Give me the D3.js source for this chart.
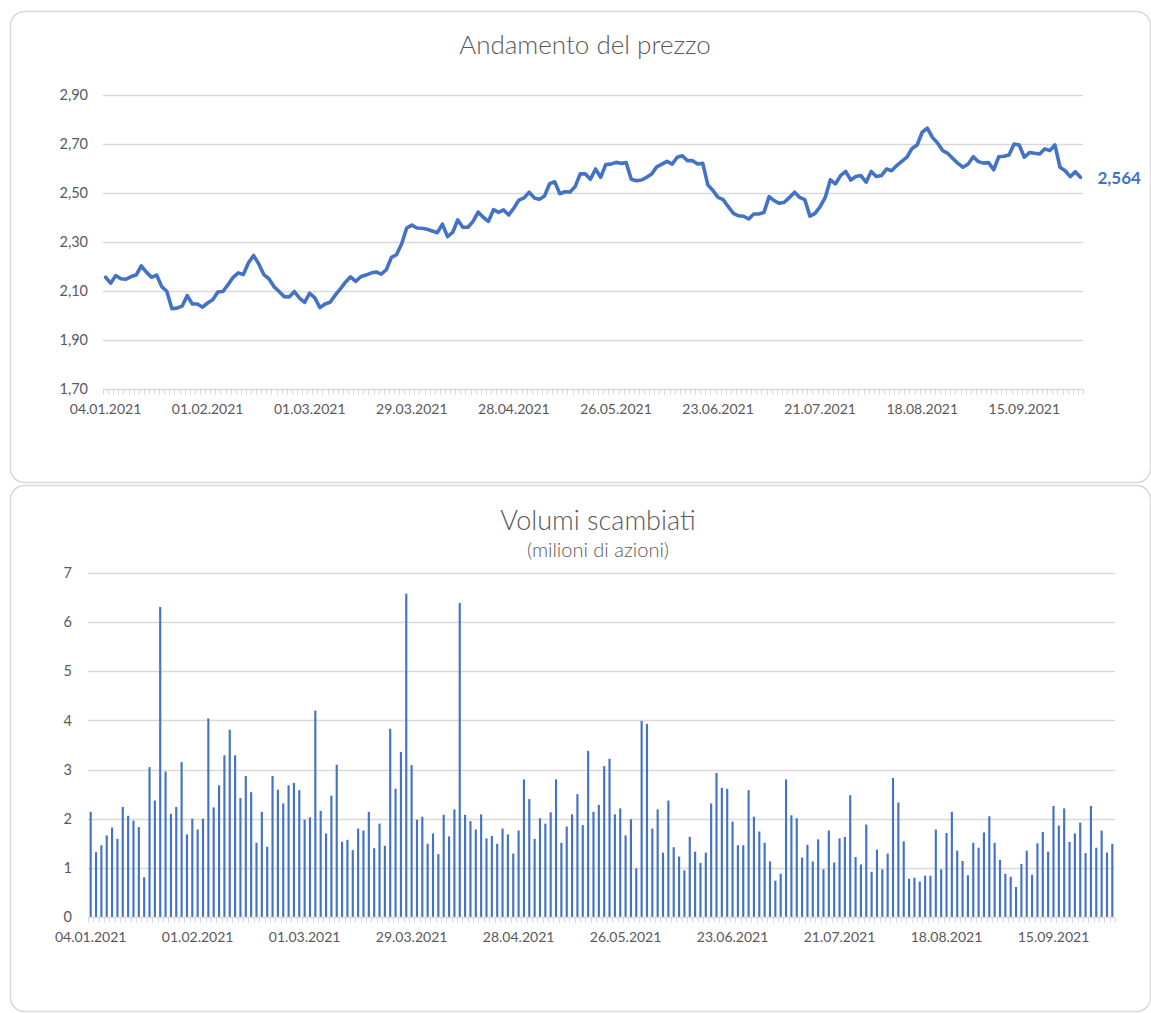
<!DOCTYPE html>
<html>
<head>
<meta charset="utf-8">
<script src="https://cdn.jsdelivr.net/npm/d3@7"></script>
<style>
  html, body { margin: 0; padding: 0; background: #ffffff; }
  svg { display: block; font-family: Lato, "Open Sans", "Liberation Sans", sans-serif; }
</style>
</head>
<body>
<svg id="chart" width="1151" height="1013"></svg>
<script>
// ---------- DATA ----------
// Trading days 04.01.2021 – 30.09.2021 (Borsa Italiana calendar)
const holidays = ["2021-04-02", "2021-04-05"];
const startDate = "2021-01-04";
const endDate = "2021-09-30";

const tickLabels = ["04.01.2021", "01.02.2021", "01.03.2021", "29.03.2021", "28.04.2021",
                    "26.05.2021", "23.06.2021", "21.07.2021", "18.08.2021", "15.09.2021"];

const priceTicks = [1.70, 1.90, 2.10, 2.30, 2.50, 2.70, 2.90];
const volumeTicks = [0, 1, 2, 3, 4, 5, 6, 7];

const prices = [
  2.156, 2.132, 2.163, 2.150, 2.148, 2.159, 2.165, 2.203, 2.177, 2.156,
  2.165, 2.118, 2.099, 2.028, 2.030, 2.038, 2.081, 2.047, 2.047, 2.034,
  2.051, 2.064, 2.096, 2.098, 2.126, 2.156, 2.174, 2.167, 2.215, 2.245,
  2.211, 2.167, 2.150, 2.118, 2.098, 2.077, 2.076, 2.098, 2.071, 2.054,
  2.091, 2.072, 2.032, 2.047, 2.054, 2.083, 2.109, 2.136, 2.158, 2.139,
  2.158, 2.165, 2.173, 2.178, 2.169, 2.186, 2.237, 2.248, 2.292, 2.357,
  2.369, 2.357, 2.356, 2.352, 2.345, 2.338, 2.373, 2.322, 2.339, 2.390,
  2.360, 2.360, 2.384, 2.422, 2.401, 2.384, 2.432, 2.421, 2.431, 2.410,
  2.439, 2.471, 2.480, 2.503, 2.480, 2.474, 2.488, 2.538, 2.546, 2.497,
  2.505, 2.504, 2.526, 2.578, 2.578, 2.556, 2.598, 2.564, 2.616, 2.618,
  2.625, 2.621, 2.624, 2.556, 2.550, 2.553, 2.564, 2.578, 2.607, 2.618,
  2.629, 2.618, 2.646, 2.652, 2.632, 2.632, 2.618, 2.621, 2.533, 2.510,
  2.482, 2.473, 2.444, 2.417, 2.407, 2.405, 2.394, 2.414, 2.414, 2.421,
  2.485, 2.469, 2.458, 2.462, 2.482, 2.503, 2.482, 2.473, 2.405, 2.417,
  2.444, 2.482, 2.554, 2.537, 2.571, 2.588, 2.553, 2.567, 2.571, 2.544,
  2.588, 2.567, 2.571, 2.598, 2.591, 2.612, 2.629, 2.646, 2.682, 2.696,
  2.748, 2.765, 2.727, 2.704, 2.673, 2.662, 2.641, 2.621, 2.605, 2.618,
  2.648, 2.628, 2.622, 2.624, 2.595, 2.648, 2.650, 2.655, 2.700, 2.696,
  2.646, 2.665, 2.662, 2.659, 2.680, 2.673, 2.696, 2.605, 2.591, 2.567,
  2.587, 2.564
];

// milioni di azioni
const volumes = [
  2.14, 1.32, 1.46, 1.66, 1.82, 1.59, 2.24, 2.06, 1.96, 1.83,
  0.81, 3.05, 2.37, 6.31, 2.96, 2.10, 2.24, 3.15, 1.68, 2.00,
  1.78, 2.00, 4.04, 2.23, 2.68, 3.29, 3.81, 3.29, 2.42, 2.87,
  2.54, 1.51, 2.14, 1.43, 2.87, 2.59, 2.31, 2.68, 2.73, 2.58,
  1.98, 2.03, 4.20, 2.16, 1.70, 2.47, 3.10, 1.53, 1.57, 1.36,
  1.80, 1.76, 2.14, 1.40, 1.90, 1.45, 3.83, 2.61, 3.36, 6.58,
  3.09, 1.98, 2.04, 1.49, 1.70, 1.28, 2.08, 1.64, 2.19, 6.39,
  2.08, 1.95, 1.78, 2.09, 1.60, 1.65, 1.49, 1.80, 1.68, 1.29,
  1.76, 2.80, 2.40, 1.59, 2.01, 1.90, 2.13, 2.80, 1.51, 1.84,
  2.09, 2.50, 1.87, 3.38, 2.14, 2.28, 3.07, 3.22, 2.09, 2.21,
  1.66, 1.99, 0.99, 3.99, 3.93, 1.80, 2.19, 1.31, 2.37, 1.42,
  1.23, 0.95, 1.63, 1.33, 1.10, 1.31, 2.31, 2.93, 2.63, 2.61,
  1.94, 1.46, 1.46, 2.58, 2.04, 1.74, 1.51, 1.13, 0.74, 0.88,
  2.80, 2.07, 2.01, 1.21, 1.47, 1.13, 1.58, 0.97, 1.76, 1.11,
  1.60, 1.63, 2.48, 1.22, 1.07, 1.88, 0.92, 1.37, 0.97, 1.29,
  2.83, 2.33, 1.54, 0.78, 0.80, 0.72, 0.84, 0.84, 1.78, 0.97,
  1.71, 2.14, 1.35, 1.14, 0.85, 1.51, 1.41, 1.72, 2.05, 1.51,
  1.16, 0.88, 0.82, 0.61, 1.08, 1.35, 0.86, 1.50, 1.73, 1.33,
  2.26, 1.86, 2.21, 1.53, 1.70, 1.92, 1.30, 2.26, 1.41, 1.76,
  1.31, 1.49
];

// ---------- CATEGORIES (trading days) ----------
const fmt = d3.timeFormat("%d.%m.%Y");
const iso = d3.timeFormat("%Y-%m-%d");
const parse = d3.timeParse("%Y-%m-%d");
const dates = d3.timeDay.range(parse(startDate), d3.timeDay.offset(parse(endDate), 1))
  .filter(d => d.getDay() !== 0 && d.getDay() !== 6 && !holidays.includes(iso(d)))
  .map(fmt);
const n = Math.min(dates.length, prices.length, volumes.length);
const cats = dates.slice(0, n);

// ---------- STYLE ----------
const BLUE = "#4472C4";
const TEXT = "#595959";
const GRID = "#d9d9d9";
const FONT = "Lato, 'Open Sans', sans-serif";

const svg = d3.select("#chart");

// panels
svg.append("rect").attr("x", 10.5).attr("y", 11.5).attr("width", 1140).attr("height", 471)
  .attr("rx", 14).attr("fill", "#fff").attr("stroke", GRID).attr("stroke-width", 1.5);
svg.append("rect").attr("x", 10.5).attr("y", 485.5).attr("width", 1140).attr("height", 526)
  .attr("rx", 14).attr("fill", "#fff").attr("stroke", GRID).attr("stroke-width", 1.5);

// ---------- PRICE CHART ----------
const p = { left: 103, right: 1083, top: 95, bottom: 389 };
const xP = d3.scaleBand().domain(cats).range([p.left, p.right]).paddingInner(0).paddingOuter(0);
const yP = d3.scaleLinear().domain([1.70, 2.90]).range([p.bottom, p.top]);
const commaFmt = v => d3.format(".2f")(v).replace(".", ",");

svg.append("text").attr("x", 585).attr("y", 54).attr("text-anchor", "middle")
  .attr("font-size", 26).attr("font-weight", 300).attr("fill", TEXT).text("Andamento del prezzo");

// gridlines
svg.append("g").selectAll("line").data(priceTicks.filter(t => t > 1.70)).join("line")
  .attr("x1", p.left).attr("x2", p.right)
  .attr("y1", d => Math.round(yP(d)) + 0.5).attr("y2", d => Math.round(yP(d)) + 0.5)
  .attr("stroke", GRID).attr("stroke-width", 1.3);

// y axis labels
const yAxisP = svg.append("g").attr("transform", `translate(${p.left - 12},0)`)
  .call(d3.axisLeft(yP).tickValues(priceTicks).tickFormat(commaFmt).tickSize(0));
yAxisP.select(".domain").remove();
yAxisP.selectAll("text").attr("font-size", 14.5).attr("fill", TEXT).attr("font-family", FONT);

// x axis baseline with category tick marks
const xAxisP = svg.append("g").attr("transform", `translate(0,${Math.round(p.bottom) + 0.5})`);
xAxisP.append("line").attr("x1", p.left).attr("x2", p.right).attr("stroke", GRID).attr("stroke-width", 1.3);
xAxisP.selectAll("line.tk").data(cats.concat(["__end"])).join("line").attr("class", "tk")
  .attr("x1", (d, i) => Math.round(i < n ? xP(d) : p.right) + 0.5)
  .attr("x2", (d, i) => Math.round(i < n ? xP(d) : p.right) + 0.5)
  .attr("y1", 0).attr("y2", 5).attr("stroke", GRID).attr("stroke-width", 1);
xAxisP.append("g").call(
    d3.axisBottom(xP).tickValues(tickLabels.filter(t => cats.includes(t))).tickSize(0).tickPadding(15))
  .call(g => g.select(".domain").remove())
  .selectAll("text").attr("font-size", 14).attr("fill", TEXT).attr("font-family", FONT);

// price line
const line = d3.line()
  .x((d, i) => xP(cats[i]) + xP.bandwidth() / 2)
  .y(d => yP(d));
svg.append("path").datum(prices.slice(0, n))
  .attr("d", line).attr("fill", "none").attr("stroke", BLUE)
  .attr("stroke-width", 3.6).attr("stroke-linejoin", "round").attr("stroke-linecap", "round");

// last value label
const lastIdx = n - 1;
svg.append("text")
  .attr("x", xP(cats[lastIdx]) + xP.bandwidth() / 2 + 17)
  .attr("y", yP(prices[lastIdx]) + 1)
  .attr("dy", "0.35em")
  .attr("font-size", 17).attr("font-weight", "bold").attr("fill", BLUE)
  .text(d3.format(".3f")(prices[lastIdx]).replace(".", ","));

// ---------- VOLUME CHART ----------
const v = { left: 88, right: 1115, top: 573, bottom: 917 };
const xVc = d3.scaleBand().domain(cats).range([v.left, v.right]);
const yV = d3.scaleLinear().domain([0, 7]).range([v.bottom, v.top]);

svg.append("text").attr("x", 598).attr("y", 530).attr("text-anchor", "middle")
  .attr("font-size", 27).attr("font-weight", 300).attr("fill", TEXT).text("Volumi scambiati");
svg.append("text").attr("x", 598).attr("y", 557).attr("text-anchor", "middle")
  .attr("font-size", 20).attr("font-weight", 300).attr("fill", TEXT).text("(milioni di azioni)");

svg.append("g").selectAll("line").data(volumeTicks.filter(t => t > 0)).join("line")
  .attr("x1", v.left).attr("x2", v.right)
  .attr("y1", d => Math.round(yV(d)) + 0.5).attr("y2", d => Math.round(yV(d)) + 0.5)
  .attr("stroke", GRID).attr("stroke-width", 1.3);

const yAxisV = svg.append("g").attr("transform", `translate(${v.left - 13},0)`)
  .call(d3.axisLeft(yV).tickValues(volumeTicks).tickFormat(d3.format("d")).tickSize(0));
yAxisV.select(".domain").remove();
yAxisV.selectAll("text").attr("font-size", 14.5).attr("fill", TEXT).attr("font-family", FONT);

// bars
const barW = xVc.bandwidth() * 0.4;
svg.append("g").selectAll("rect").data(volumes.slice(0, n)).join("rect")
  .attr("x", (d, i) => xVc(cats[i]) + xVc.bandwidth() / 2 - barW / 2)
  .attr("width", barW)
  .attr("y", d => yV(d))
  .attr("height", d => yV(0) - yV(d))
  .attr("fill", BLUE);

const xAxisV = svg.append("g").attr("transform", `translate(0,${Math.round(v.bottom) + 0.5})`);
xAxisV.append("line").attr("x1", v.left).attr("x2", v.right).attr("stroke", GRID).attr("stroke-width", 1.3);
xAxisV.selectAll("line.tk").data(cats.concat(["__end"])).join("line").attr("class", "tk")
  .attr("x1", (d, i) => Math.round(i < n ? xVc(d) : v.right) + 0.5)
  .attr("x2", (d, i) => Math.round(i < n ? xVc(d) : v.right) + 0.5)
  .attr("y1", 0).attr("y2", 5).attr("stroke", GRID).attr("stroke-width", 1);
xAxisV.append("g").call(
    d3.axisBottom(xVc).tickValues(tickLabels.filter(t => cats.includes(t))).tickSize(0).tickPadding(15))
  .call(g => g.select(".domain").remove())
  .selectAll("text").attr("font-size", 14).attr("fill", TEXT).attr("font-family", FONT);
</script>
</body>
</html>
